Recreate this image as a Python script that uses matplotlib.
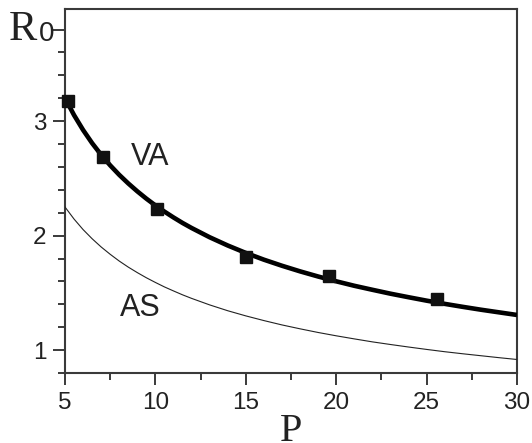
import matplotlib
matplotlib.use("Agg")
import matplotlib.pyplot as plt
from matplotlib.ticker import MultipleLocator, FixedLocator

# Data
p_curve = [5, 5.5, 6, 6.5, 7, 7.5, 8, 8.5, 9, 9.5, 10, 10.5, 11, 11.5, 12,
           13, 14, 15, 16, 17, 18, 19, 20, 21, 22, 23, 24, 25, 26, 27, 28, 29, 30]
va_curve = [3.202, 3.053, 2.923, 2.808, 2.706, 2.614, 2.531, 2.456, 2.387,
            2.323, 2.264, 2.210, 2.159, 2.111, 2.067, 1.986, 1.914, 1.849,
            1.790, 1.737, 1.688, 1.643, 1.601, 1.562, 1.527, 1.493, 1.462,
            1.432, 1.404, 1.378, 1.353, 1.330, 1.307]
as_curve = [2.250, 2.145, 2.053, 1.973, 1.901, 1.837, 1.778, 1.725, 1.677,
            1.632, 1.591, 1.552, 1.517, 1.483, 1.452, 1.395, 1.344, 1.299,
            1.258, 1.220, 1.186, 1.154, 1.125, 1.098, 1.072, 1.049, 1.027,
            1.006, 0.986, 0.968, 0.951, 0.934, 0.918]
p_points = [5.15, 7.08, 10.1, 15.0, 19.6, 25.6]
va_points = [3.175, 2.69, 2.235, 1.816, 1.646, 1.443]

x_ticks = [5, 10, 15, 20, 25, 30]
x_ticklabels = ["5", "10", "15", "20", "25", "30"]
y_ticks = [1, 2, 3, 3.8]
y_ticklabels = ["1", "2", "3", ""]

W, H = 532, 443
fig = plt.figure(figsize=(W / 100, H / 100), dpi=100)
ax = fig.add_axes([65 / W, 1 - 373 / H, (517 - 65) / W, (373 - 9) / H])

axc = "#3a3a3a"
txt = "#222222"

ax.plot(p_curve, va_curve, color="black", lw=3.3, solid_capstyle="butt",
        solid_joinstyle="round", zorder=3)
ax.plot(p_curve, as_curve, color="#222222", lw=0.8, solid_joinstyle="round", zorder=3)
ax.plot(p_points, va_points, linestyle="none", marker="s", ms=8.8,
        color="#111111", zorder=4, clip_on=False)

ax.set_xlim(5, 30)
ax.set_ylim(0.8, 3.98)

ax.xaxis.set_major_locator(FixedLocator(x_ticks))
ax.set_xticklabels(x_ticklabels)
ax.xaxis.set_minor_locator(MultipleLocator(2.5))
ax.yaxis.set_major_locator(FixedLocator(y_ticks))
ax.set_yticklabels(y_ticklabels)
ax.yaxis.set_minor_locator(FixedLocator([0.8, 1.2, 1.4, 1.6, 1.8, 2.2, 2.4, 2.6,
                                         2.8, 3.2, 3.4, 3.6]))

for s in ax.spines.values():
    s.set_color(axc)
    s.set_linewidth(1.5)

ax.tick_params(which="both", direction="out", color=axc, width=1.4,
               top=False, right=False)
ax.tick_params(which="major", length=8.5, pad=5, labelsize=17.5, labelcolor=txt)
ax.tick_params(which="minor", length=5)
for lab in ax.get_xticklabels() + ax.get_yticklabels():
    lab.set_family("Liberation Sans")

ax.text(9.7, 2.69, "VA", fontsize=22, family="Liberation Sans", color=txt,
        ha="center", va="center")
ax.text(9.18, 1.37, "AS", fontsize=22, family="Liberation Sans", color=txt,
        ha="center", va="center")

# Axis labels placed as in the reference
fig.text(9 / W, 1 - 40 / H, "R", fontsize=30.5, family="Liberation Serif",
         color=txt, ha="left", va="baseline")
fig.text(39 / W, 1 - 41 / H, "0", fontsize=20, family="Liberation Sans",
         color=txt, ha="left", va="baseline")
fig.text(291 / W, 1 - 441 / H, "P", fontsize=29, family="Liberation Serif",
         color=txt, ha="center", va="baseline")

fig.savefig("out.png", dpi=100)
